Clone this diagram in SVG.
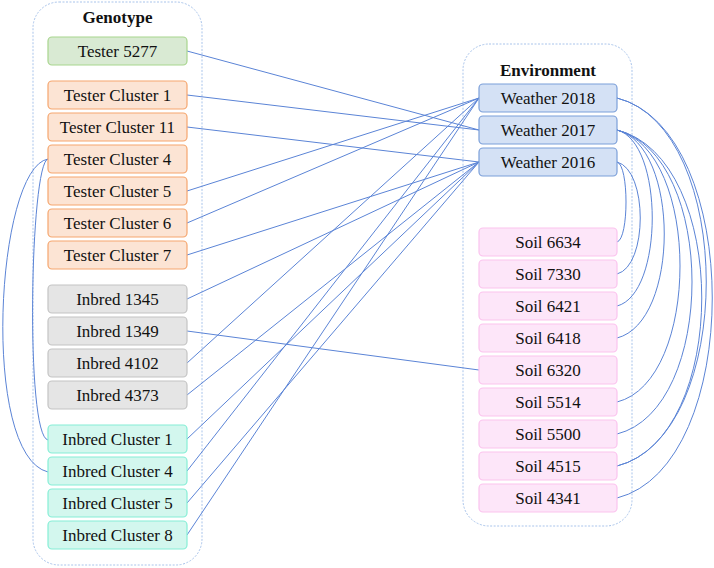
<svg xmlns="http://www.w3.org/2000/svg" width="714" height="568" viewBox="0 0 714 568">
<style>
.cont{fill:#fff;stroke:#a9c4eb;stroke-width:1;stroke-dasharray:2,1.5}
.n rect{stroke-width:1.2}
.t{font-family:"Liberation Serif","Times New Roman",serif;font-size:17px;fill:#111;text-anchor:middle}
.h{font-weight:bold}
.green rect{fill:#d9ead3;stroke:#a8d58e}
.orange rect{fill:#fce4d4;stroke:#f5a66e}
.grey rect{fill:#e5e5e5;stroke:#c4c4c4}
.teal rect{fill:#d3f7ee;stroke:#86eed6}
.blue rect{fill:#d4e1f5;stroke:#7b9fd9}
.pink rect{fill:#fde6f9;stroke:#fbc3ee}
#edges path{fill:none;stroke:#5b84d6;stroke-width:1}
</style>
<g id="genotype-container">
<rect class="cont" x="33" y="2" width="169" height="563" rx="26"/>
<text class="t h" x="117.5" y="23">Genotype</text>
</g>
<g id="environment-container">
<rect class="cont" x="463" y="44" width="169" height="482" rx="26"/>
<text class="t h" x="548" y="76">Environment</text>
</g>
<g id="edges">
<path d="M187,51 L479,130"/>
<path d="M187,95 L479,130"/>
<path d="M187,127 L479,162"/>
<path d="M187,191 L479,98"/>
<path d="M187,223 L479,98"/>
<path d="M187,255 L479,162"/>
<path d="M187,299 L479,162"/>
<path d="M187,331 L479,370"/>
<path d="M187,363 L479,98"/>
<path d="M187,395 L479,162"/>
<path d="M187,439 L479,162"/>
<path d="M187,471 L479,98"/>
<path d="M187,503 L479,162"/>
<path d="M187,535 L479,98"/>
<path d="M48,159 C30,163 25,436 48,440"/>
<path d="M48,159 C-4,168 -20,455 48,472"/>
<path d="M617,162 C629,165 629,239 617,242"/>
<path d="M617,162 C648,170 648,266 617,274"/>
<path d="M617,130 C664,142 664,294 617,306"/>
<path d="M617,130 C680,146 680,322 617,338"/>
<path d="M617,130 C701,151 701,381 617,402"/>
<path d="M617,130 C717,155 717,409 617,434"/>
<path d="M617,130 C730,158 730,438 617,466"/>
<path d="M617,98 C736,128 736,436 617,466"/>
<path d="M617,98 C744,130 744,466 617,498"/>
</g>
<g id="tester-5277" class="n green"><rect x="48" y="37" width="139" height="28" rx="4"/><text class="t" x="117.5" y="57">Tester 5277</text></g>
<g id="tester-cluster-1" class="n orange"><rect x="48" y="81" width="139" height="28" rx="4"/><text class="t" x="117.5" y="101">Tester Cluster 1</text></g>
<g id="tester-cluster-11" class="n orange"><rect x="48" y="113" width="139" height="28" rx="4"/><text class="t" x="117.5" y="133">Tester Cluster 11</text></g>
<g id="tester-cluster-4" class="n orange"><rect x="48" y="145" width="139" height="28" rx="4"/><text class="t" x="117.5" y="165">Tester Cluster 4</text></g>
<g id="tester-cluster-5" class="n orange"><rect x="48" y="177" width="139" height="28" rx="4"/><text class="t" x="117.5" y="197">Tester Cluster 5</text></g>
<g id="tester-cluster-6" class="n orange"><rect x="48" y="209" width="139" height="28" rx="4"/><text class="t" x="117.5" y="229">Tester Cluster 6</text></g>
<g id="tester-cluster-7" class="n orange"><rect x="48" y="241" width="139" height="28" rx="4"/><text class="t" x="117.5" y="261">Tester Cluster 7</text></g>
<g id="inbred-1345" class="n grey"><rect x="48" y="285" width="139" height="28" rx="4"/><text class="t" x="117.5" y="305">Inbred 1345</text></g>
<g id="inbred-1349" class="n grey"><rect x="48" y="317" width="139" height="28" rx="4"/><text class="t" x="117.5" y="337">Inbred 1349</text></g>
<g id="inbred-4102" class="n grey"><rect x="48" y="349" width="139" height="28" rx="4"/><text class="t" x="117.5" y="369">Inbred 4102</text></g>
<g id="inbred-4373" class="n grey"><rect x="48" y="381" width="139" height="28" rx="4"/><text class="t" x="117.5" y="401">Inbred 4373</text></g>
<g id="inbred-cluster-1" class="n teal"><rect x="48" y="425" width="139" height="28" rx="4"/><text class="t" x="117.5" y="445">Inbred Cluster 1</text></g>
<g id="inbred-cluster-4" class="n teal"><rect x="48" y="457" width="139" height="28" rx="4"/><text class="t" x="117.5" y="477">Inbred Cluster 4</text></g>
<g id="inbred-cluster-5" class="n teal"><rect x="48" y="489" width="139" height="28" rx="4"/><text class="t" x="117.5" y="509">Inbred Cluster 5</text></g>
<g id="inbred-cluster-8" class="n teal"><rect x="48" y="521" width="139" height="28" rx="4"/><text class="t" x="117.5" y="541">Inbred Cluster 8</text></g>
<g id="weather-2018" class="n blue"><rect x="479" y="84" width="138" height="28" rx="4"/><text class="t" x="548" y="104">Weather 2018</text></g>
<g id="weather-2017" class="n blue"><rect x="479" y="116" width="138" height="28" rx="4"/><text class="t" x="548" y="136">Weather 2017</text></g>
<g id="weather-2016" class="n blue"><rect x="479" y="148" width="138" height="28" rx="4"/><text class="t" x="548" y="168">Weather 2016</text></g>
<g id="soil-6634" class="n pink"><rect x="479" y="228" width="138" height="28" rx="4"/><text class="t" x="548" y="248">Soil 6634</text></g>
<g id="soil-7330" class="n pink"><rect x="479" y="260" width="138" height="28" rx="4"/><text class="t" x="548" y="280">Soil 7330</text></g>
<g id="soil-6421" class="n pink"><rect x="479" y="292" width="138" height="28" rx="4"/><text class="t" x="548" y="312">Soil 6421</text></g>
<g id="soil-6418" class="n pink"><rect x="479" y="324" width="138" height="28" rx="4"/><text class="t" x="548" y="344">Soil 6418</text></g>
<g id="soil-6320" class="n pink"><rect x="479" y="356" width="138" height="28" rx="4"/><text class="t" x="548" y="376">Soil 6320</text></g>
<g id="soil-5514" class="n pink"><rect x="479" y="388" width="138" height="28" rx="4"/><text class="t" x="548" y="408">Soil 5514</text></g>
<g id="soil-5500" class="n pink"><rect x="479" y="420" width="138" height="28" rx="4"/><text class="t" x="548" y="440">Soil 5500</text></g>
<g id="soil-4515" class="n pink"><rect x="479" y="452" width="138" height="28" rx="4"/><text class="t" x="548" y="472">Soil 4515</text></g>
<g id="soil-4341" class="n pink"><rect x="479" y="484" width="138" height="28" rx="4"/><text class="t" x="548" y="504">Soil 4341</text></g>
</svg>
